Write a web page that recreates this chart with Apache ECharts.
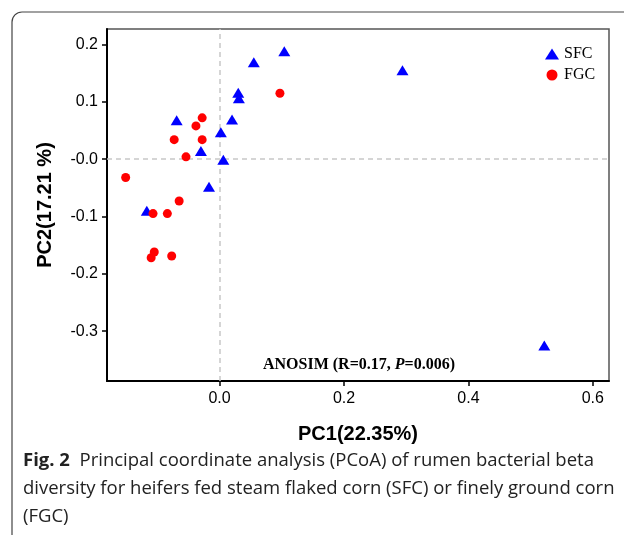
<!DOCTYPE html>
<html>
<head>
<meta charset="utf-8">
<style>
  html, body { margin: 0; padding: 0; background: #fff; }
  #chart { width: 624px; height: 535px; }
</style>
<script src="https://cdn.jsdelivr.net/npm/echarts@6/dist/echarts.min.js"></script>
</head>
<body>
<div id="chart"></div>
<script>
/* PCoA points: [PC1, PC2] */
var sfcPoints = [
  [0.104, 0.188], [0.055, 0.169], [0.030, 0.116], [0.031, 0.106],
  [0.020, 0.069], [0.002, 0.047], [-0.069, 0.068], [-0.030, 0.014],
  [0.006, -0.001], [-0.017, -0.048], [-0.117, -0.090],
  [0.294, 0.155], [0.522, -0.325]
];
var fgcPoints = [
  [0.097, 0.115], [-0.028, 0.072], [-0.038, 0.058], [-0.073, 0.034],
  [-0.028, 0.034], [-0.054, 0.004], [-0.151, -0.032], [-0.065, -0.073],
  [-0.107, -0.095], [-0.084, -0.095], [-0.105, -0.162], [-0.110, -0.172],
  [-0.077, -0.169]
];

/* axis ticks */
var xTicks = [0, 0.2, 0.4, 0.6];
var xTickLabels = ['0.0', '0.2', '0.4', '0.6'];
var yTicks = [-0.3, -0.2, -0.1, 0, 0.1, 0.2];
var yTickLabels = ['-0.3', '-0.2', '-0.1', '-0.0', '0.1', '0.2'];

var groupNames = ['SFC', 'FGC'];
var captionLines = [
  'Principal coordinate analysis (PCoA) of rumen bacterial beta',
  'diversity for heifers fed steam flaked corn (SFC) or finely ground corn',
  '(FGC)'
];

function tickLabel(ticks, labels) {
  return function (v) {
    for (var i = 0; i < ticks.length; i++) {
      if (Math.abs(ticks[i] - v) < 1e-9) return labels[i];
    }
    return '';
  };
}

var sans = 'Liberation Sans, Arial, sans-serif';
var serif = 'Liberation Serif, Times New Roman, serif';
var capFont = 'Open Sans, Noto Sans, sans-serif';

var chart = echarts.init(document.getElementById('chart'), null, { renderer: 'canvas' });

var axisCommon = {
  type: 'value',
  splitLine: { show: false },
  axisLine: { show: true, onZero: false, lineStyle: { color: '#000', width: 2 } },
  axisTick: { show: true, inside: false, length: 5, lineStyle: { color: '#000', width: 1.5 } }
};

chart.setOption({
  animation: false,
  backgroundColor: '#fff',
  grid: {
    left: 107, top: 29, width: 502, height: 352,
    show: true, borderColor: '#555', borderWidth: 1.5, backgroundColor: 'transparent'
  },
  xAxis: Object.assign({}, axisCommon, {
    min: -0.181, max: 0.626,
    axisTick: Object.assign({}, axisCommon.axisTick, { customValues: xTicks }),
    axisLabel: {
      customValues: xTicks, formatter: tickLabel(xTicks, xTickLabels),
      color: '#000', fontFamily: sans, fontSize: 16, margin: 10
    },
    name: 'PC1(22.35%)', nameLocation: 'middle', nameGap: 43,
    nameTextStyle: { color: '#000', fontFamily: sans, fontSize: 20, fontWeight: 'bold' }
  }),
  yAxis: Object.assign({}, axisCommon, {
    min: -0.387, max: 0.227,
    axisTick: Object.assign({}, axisCommon.axisTick, { customValues: yTicks }),
    axisLabel: {
      customValues: yTicks, formatter: tickLabel(yTicks, yTickLabels),
      color: '#000', fontFamily: sans, fontSize: 16, margin: 9
    },
    name: 'PC2(17.21 %)', nameLocation: 'middle', nameGap: 52, nameRotate: 90,
    nameTextStyle: { color: '#000', fontFamily: sans, fontSize: 20, fontWeight: 'bold' }
  }),
  legend: {
    orient: 'vertical', left: 540, top: 41,
    itemWidth: 14, itemHeight: 11, itemGap: 5,
    data: groupNames,
    textStyle: { color: '#000', fontFamily: serif, fontSize: 16 }
  },
  series: [
    {
      name: groupNames[0], type: 'scatter', symbol: 'triangle', symbolSize: [12, 10],
      itemStyle: { color: '#0000ff', opacity: 1 },
      data: sfcPoints, z: 3
    },
    {
      name: groupNames[1], type: 'scatter', symbol: 'circle', symbolSize: 9,
      itemStyle: { color: '#ff0000', opacity: 1 },
      data: fgcPoints, z: 3,
      markLine: {
        silent: true, symbol: ['none', 'none'], label: { show: false },
        lineStyle: { color: '#c8c8c8', type: [5, 4], width: 1.5 },
        data: [{ xAxis: 0 }, { yAxis: 0 }], z: 1
      }
    }
  ],
  graphic: [
    {
      type: 'rect', silent: true,
      shape: { x: 12, y: 12, width: 660, height: 560, r: 10 },
      style: { fill: 'none', stroke: '#444', lineWidth: 1.2 }
    },
    {
      type: 'text', x: 359, y: 365,
      style: {
        text: 'ANOSIM (R=0.17, {i|P}=0.006)',
        align: 'center', verticalAlign: 'middle',
        fill: '#000', font: 'bold 16px ' + serif,
        rich: { i: { fontStyle: 'italic', fontWeight: 'bold', fontSize: 16, fontFamily: serif } }
      }
    },
    {
      type: 'text', left: 23, top: 451,
      style: {
        text: '{b|Fig. 2}  ' + captionLines[0],
        fill: '#222', font: '18.5px ' + capFont,
        rich: { b: { fontWeight: 'bold', fontSize: 18.5, fontFamily: capFont, fill: '#222' } }
      }
    },
    {
      type: 'text', left: 23, top: 479,
      style: { text: captionLines[1], fill: '#222', font: '18.5px ' + capFont }
    },
    {
      type: 'text', left: 23, top: 507,
      style: { text: captionLines[2], fill: '#222', font: '18.5px ' + capFont }
    }
  ]
});
</script>
</body>
</html>
